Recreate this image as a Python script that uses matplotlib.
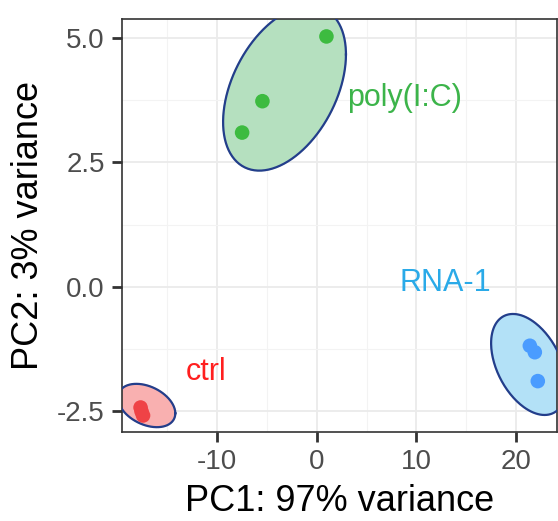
import numpy as np
import matplotlib as mpl
mpl.use('Agg')
import matplotlib.pyplot as plt

plt.rcParams['font.family'] = ['Liberation Sans', 'DejaVu Sans']
plt.rcParams['axes.unicode_minus'] = False

# PCA scores per group
groups = ['ctrl', 'poly(I:C)', 'RNA-1']
pc1 = [[-17.7, -17.6, -17.45], [0.97, -5.46, -7.5], [21.4, 21.9, 22.2]]
pc2 = [[-2.42, -2.50, -2.58], [5.03, 3.73, 3.10], [-1.18, -1.31, -1.89]]

# ellipse: centre, half extents, tilt (cosine)
ell_cx = [-17.09, -3.24, 21.29]
ell_cy = [-2.38, 3.99, -1.556]
ell_ax = [2.88, 6.17, 3.78]
ell_ay = [0.435, 1.654, 1.014]
ell_tilt = [-0.36, 0.41, -0.42]

# group labels
lab_x = [-11.16, 8.85, 12.96]
lab_y = [-1.70, 3.80, 0.07]

pt_col = ['#EF4346', '#3DBB40', '#4A9CFF']
fill_col = ['#F9B0B0', '#B5E0BF', '#B3E1F7']
txt_col = ['#FF1F1F', '#3CB44A', '#2AAAE8']

fig = plt.figure(figsize=(5.58, 5.21), dpi=100)
ax = fig.add_axes([0.218, 0.171, 0.7797, 0.7925])

t = np.linspace(0, 2 * np.pi, 200)
for i in range(len(groups)):
    phi = np.arccos(ell_tilt[i])
    ex = ell_cx[i] + ell_ax[i] * np.cos(t)
    ey = ell_cy[i] + ell_ay[i] * np.cos(t + phi)
    ax.fill(ex, ey, color=fill_col[i], zorder=2)
    ax.plot(ex, ey, color='#233E8B', lw=1.6, zorder=3)
    ax.scatter(pc1[i], pc2[i], s=110, color=pt_col[i], edgecolors='none', zorder=4)
    ax.text(lab_x[i], lab_y[i], groups[i], color=txt_col[i], fontsize=22,
            ha='center', va='center', zorder=5)

ax.set_xlim(-19.6, 24.1)
ax.set_ylim(-2.91, 5.38)
ax.set_xticks([-10, 0, 10, 20])
ax.set_yticks([-2.5, 0, 2.5, 5.0])
ax.set_yticklabels(['-2.5', '0.0', '2.5', '5.0'])
ax.set_xticks([-15, -5, 5, 15], minor=True)
ax.set_yticks([-1.25, 1.25, 3.75], minor=True)
ax.grid(which='major', color='#EBEBEB', lw=1.3, zorder=0)
ax.grid(which='minor', color='#F3F3F3', lw=0.8, zorder=0)
ax.set_axisbelow(True)
ax.tick_params(which='major', labelsize=20, colors='#333333', labelcolor='#4D4D4D',
               length=7, width=2, pad=5)
ax.tick_params(which='minor', length=0)
for s in ax.spines.values():
    s.set_color('#333333')
    s.set_linewidth(1.2)

ax.set_xlabel('PC1: 97% variance', fontsize=26, labelpad=7)
ax.set_ylabel('PC2: 3% variance', fontsize=26, labelpad=8)

plt.savefig('out.png', dpi=100)
